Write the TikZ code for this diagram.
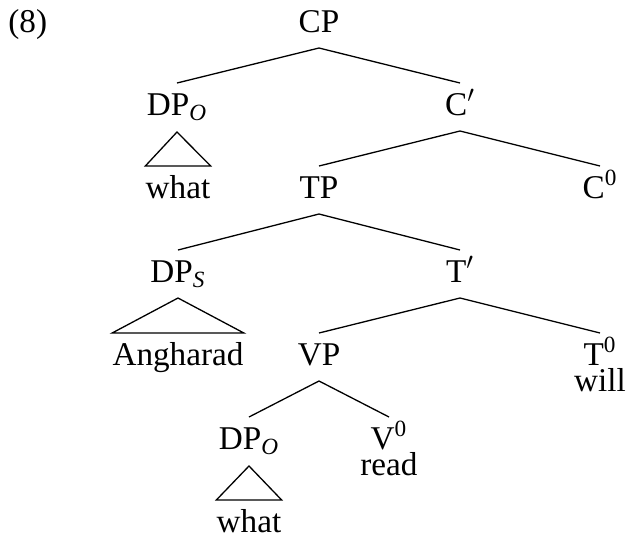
\documentclass[tikz,border=0pt]{standalone}
\usepackage{fontspec}
\setmainfont{Liberation Serif}
\begin{document}
\begin{tikzpicture}[x=0.5pt,y=-0.5pt,
  lbl/.style={inner sep=0pt,anchor=base,font=\fontsize{16.6}{20}\selectfont},
  stack/.style={lbl,align=center,font=\fontsize{16.6}{13}\selectfont},
  edge/.style={line width=0.65pt,line join=miter}]
\useasboundingbox (0,0) rectangle (627,537);
% labels
\node[lbl,anchor=base west] (ex) at (8,32) {(8)};
\node[lbl] (cp) at (319,32) {CP};
\node[lbl] (dpo) at (177,115) {DP\textsubscript{\textit{O}}};
\node[lbl] (cbar) at (460,115) {C$'$};
\node[lbl] (what) at (178,198) {what};
\node[lbl] (tp) at (319,198) {TP};
\node[lbl] (c0) at (600,198) {C\textsuperscript{0}};
\node[lbl] (dps) at (178,282) {DP\textsubscript{\textit{S}}};
\node[lbl] (tbar) at (460,282) {T$'$};
\node[lbl] (ang) at (178,365) {Angharad};
\node[lbl] (vp) at (319,365) {VP};
\node[stack] (t0) at (600,391) {T\textsuperscript{0}\\will};
\node[lbl] (dpo2) at (249,449) {DP\textsubscript{\textit{O}}};
\node[stack] (v0) at (389,475) {V\textsuperscript{0}\\read};
\node[lbl] (what2) at (249,532) {what};
% branches
\draw[edge] ([yshift=16pt]dpo.base) -- ([yshift=-8pt]cp.base) -- ([yshift=16pt]cbar.base);
\draw[edge] ([yshift=16pt]tp.base) -- ([yshift=-8pt]cbar.base) -- ([yshift=16pt]c0.base);
\draw[edge] ([yshift=16pt]dps.base) -- ([yshift=-8pt]tp.base) -- ([yshift=16pt]tbar.base);
\draw[edge] ([yshift=16pt]vp.base) -- ([yshift=-8pt]tbar.base) -- ([yshift=29pt]t0.base);
\draw[edge] ([yshift=16pt]dpo2.base) -- ([yshift=-8pt]vp.base) -- ([yshift=29pt]v0.base);
% roofs
\draw[edge] ([yshift=-8.5pt]dpo.base) -- ([yshift=16pt]what.base west) -- ([yshift=16pt]what.base east) -- cycle;
\draw[edge] ([yshift=-8pt]dps.base) -- ([yshift=16pt]ang.base west) -- ([yshift=16pt]ang.base east) -- cycle;
\draw[edge] ([yshift=-8.5pt]dpo2.base) -- ([yshift=16pt]what2.base west) -- ([yshift=16pt]what2.base east) -- cycle;
\end{tikzpicture}
\end{document}
